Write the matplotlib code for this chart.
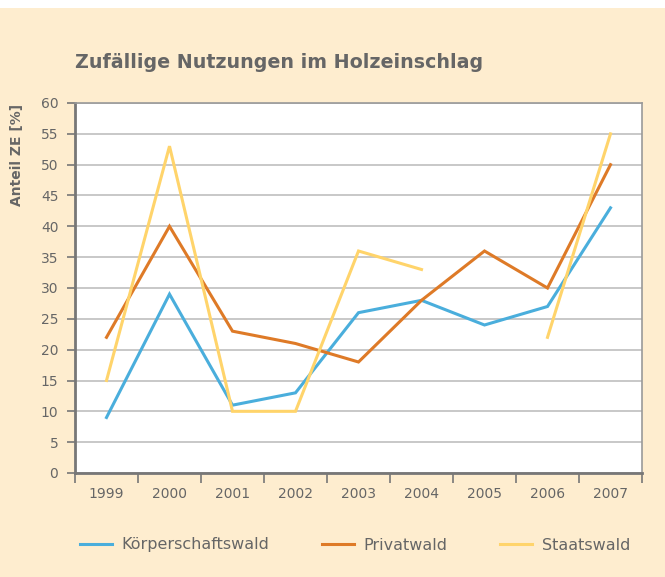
import numpy as np
import matplotlib
matplotlib.use('Agg')
from matplotlib import pyplot as plt
from matplotlib.patches import Rectangle

# Data
years = ['1999', '2000', '2001', '2002', '2003', '2004', '2005', '2006', '2007']
koerperschaftswald = [9, 29, 11, 13, 26, 28, 24, 27, 43]
privatwald = [22, 40, 23, 21, 18, 28, 36, 30, 50]
staatswald = [15, 53, 10, 10, 36, 33, np.nan, 22, 55]
y_ticks = list(range(0, 61, 5))

bg = '#FEEDCF'
text_gray = '#666666'
colors = ['#4AAEDC', '#DE7A27', '#FFD46B']

fig = plt.figure(figsize=(6.65, 5.77), dpi=100)
fig.patch.set_facecolor('white')
fig.patches.append(Rectangle((0, 0), 1, 1 - 8 / 577, transform=fig.transFigure,
                             facecolor=bg, edgecolor='none', zorder=-10))

ax = fig.add_axes([75 / 665, 1 - 473 / 577, 567 / 665, 370 / 577])
ax.set_facecolor('white')

x = np.arange(len(years))
series = [('Körperschaftswald', koerperschaftswald),
          ('Privatwald', privatwald),
          ('Staatswald', staatswald)]
for (label, values), color in zip(series, colors):
  ax.plot(x, values, color=color, lw=2.2, label=label, solid_joinstyle='miter')

# Axes limits and ticks
ax.set_xlim(-0.5, len(years) - 0.5)
ax.set_ylim(0, 60)
ax.set_yticks(y_ticks)
ax.set_yticklabels([str(v) for v in y_ticks])
ax.set_xticks(x)
ax.set_xticklabels(years)
ax.set_xticks(np.arange(-0.5, len(years)), minor=True)
ax.tick_params(axis='x', which='major', length=0, pad=10, labelsize=10,
               labelcolor=text_gray)
ax.tick_params(axis='x', which='minor', length=7, width=1.2, color='#777777',
               direction='out')
ax.tick_params(axis='y', length=6, width=1.2, color='#777777', pad=6,
               labelsize=10, labelcolor=text_gray)

ax.grid(axis='y', color='#C4C4C4', lw=1.3)
ax.set_axisbelow(True)
for side in ['left', 'bottom']:
  ax.spines[side].set_color('#777777')
  ax.spines[side].set_linewidth(2)
for side in ['top', 'right']:
  ax.spines[side].set_color('#999999')
  ax.spines[side].set_linewidth(1.2)

# Title and axis label
fig.text(75 / 665, 1 - 63 / 577, 'Zufällige Nutzungen im Holzeinschlag',
         fontsize=13.7, fontweight='bold', color=text_gray, va='center',
         ha='left')
fig.text(17 / 665, 1 - 155 / 577, 'Anteil ZE [%]', rotation=90, fontsize=10,
         fontweight='bold', color=text_gray, va='center', ha='center')

# Legend
fig.legend(loc='center', bbox_to_anchor=(355 / 665, 1 - 545 / 577), ncol=3,
           frameon=False, fontsize=11.5, labelcolor=text_gray,
           handlelength=2.0, handletextpad=0.6, columnspacing=3.3)

plt.savefig('out.png', dpi=100, facecolor=fig.get_facecolor())
